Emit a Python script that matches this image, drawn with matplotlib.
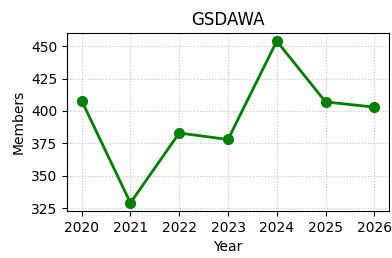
import matplotlib
matplotlib.use("Agg")
import matplotlib.pyplot as plt

years = [2020, 2021, 2022, 2023, 2024, 2025, 2026]
members = [408, 329, 383, 378, 454, 407, 403]

fig, ax = plt.subplots(figsize=(3.92, 2.58), dpi=100)
fig.subplots_adjust(left=67/392, right=389/392, top=1-33/258, bottom=1-211/258)
ax.plot(years, members, color="green", marker="o", linewidth=2, markersize=7)
ax.set_title("GSDAWA")
ax.set_xlabel("Year")
ax.set_ylabel("Members")
ax.set_xticks(years)
ax.set_yticks([325, 350, 375, 400, 425, 450])
ax.grid(True, linestyle=":", alpha=0.7)
fig.savefig("out.png", dpi=100)
